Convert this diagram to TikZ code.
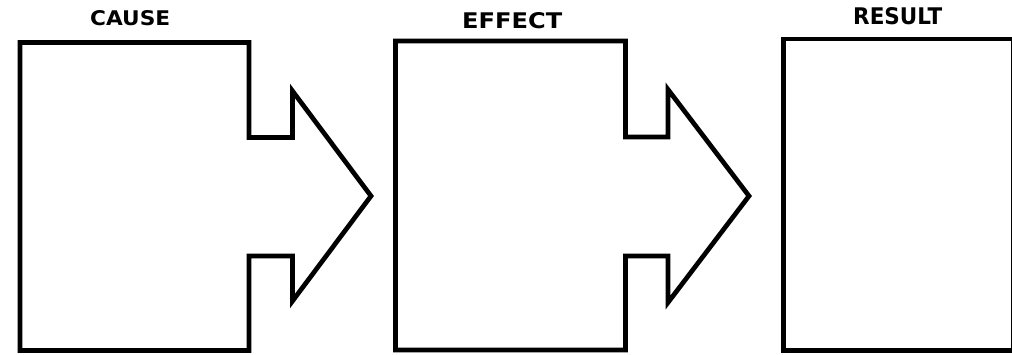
\documentclass[tikz,border=0pt]{standalone}
\usepackage{fontspec}
\setmainfont{DejaVu Sans}
\usepackage{graphicx}
\begin{document}
\begin{tikzpicture}[x=1pt,y=-1pt,
  outline/.style={draw=black,line width=4.7pt,line join=miter,miter limit=10,fill=white},
  title/.style={anchor=south west,inner sep=0pt,text=black,font=\bfseries}]
\useasboundingbox (0,0) rectangle (1012,354);
\clip (0,0) rectangle (1012,354);
\fill[white] (0,0) rectangle (1012,354);
% CAUSE arrow-box
\draw[outline] (20,42.5) -- (249,42.5) -- (249,137.5) -- (292.5,137.5) -- (292.5,91)
  -- (371,196) -- (292.5,301) -- (292.5,256) -- (249,256) -- (249,350.5) -- (20,350.5) -- cycle;
% EFFECT arrow-box
\draw[outline] (395.5,41) -- (625.5,41) -- (625.5,137) -- (668,137) -- (668,89.5)
  -- (749,196) -- (668,302.5) -- (668,256) -- (625.5,256) -- (625.5,350) -- (395.5,350) -- cycle;
% RESULT box
\draw[outline] (783.5,39) rectangle (1013,350.5);
% titles
\node[title] (cause) at (90,26) {\resizebox{80pt}{15pt}{CAUSE}};
\node[title] (effect) at (462,29) {\resizebox{100pt}{16pt}{EFFECT}};
\node[title] (result) at (853,25) {\resizebox{89pt}{17pt}{RESULT}};
\end{tikzpicture}
\end{document}
